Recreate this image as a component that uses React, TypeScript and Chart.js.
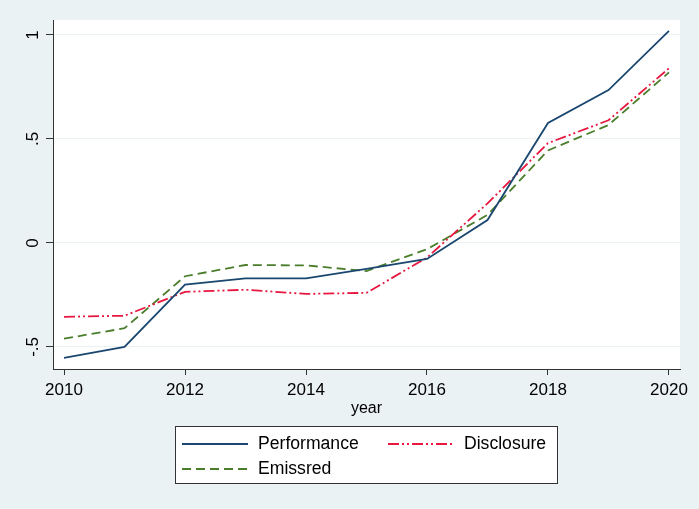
import { useEffect, useRef } from 'react';
import { Chart, registerables } from 'chart.js';

Chart.register(...registerables);

// values (Stata-style line plot)
const years = [2010, 2011, 2012, 2013, 2014, 2015, 2016, 2017, 2018, 2019, 2020];
const performance = [-0.553, -0.5, -0.2, -0.17, -0.17, -0.125, -0.077, 0.11, 0.577, 0.735, 1.02];
const disclosure = [-0.355, -0.35, -0.235, -0.225, -0.245, -0.24, -0.07, 0.19, 0.48, 0.59, 0.84];
const emissred = [-0.46, -0.41, -0.16, -0.106, -0.108, -0.135, -0.03, 0.135, 0.445, 0.567, 0.82];

const xTicks = [2010, 2012, 2014, 2016, 2018, 2020];
const yTicks = [-0.5, 0, 0.5, 1];
const yTickLabels = ['-.5', '0', '.5', '1'];

const FONT = '"Liberation Sans", Arial, sans-serif';
const BG = '#EAF2F3';
const AXIS = '#333333';

const toPoints = (vals: number[]) => vals.map((v, i) => ({ x: years[i], y: v }));

// region colours + rotated y labels + legend box
const stataPlugin = {
	id: 'stata',
	beforeDraw(chart: any) {
		const { ctx, chartArea: a, width, height } = chart;
		ctx.save();
		ctx.fillStyle = BG;
		ctx.fillRect(0, 0, width, height);
		ctx.fillStyle = '#ffffff';
		ctx.fillRect(a.left, a.top, a.right - a.left, a.bottom - a.top);
		ctx.restore();
	},
	afterDraw(chart: any) {
		const { ctx } = chart;
		const yScale = chart.scales.y;

		ctx.save();
		ctx.fillStyle = '#000';
		ctx.font = `17px ${FONT}`;
		ctx.textAlign = 'center';
		ctx.textBaseline = 'middle';
		yTicks.forEach((v, i) => {
			const y = yScale.getPixelForValue(v);
			ctx.save();
			ctx.translate(33, y);
			ctx.rotate(-Math.PI / 2);
			ctx.fillText(yTickLabels[i], 0, 0);
			ctx.restore();
		});
		ctx.restore();

		// legend
		ctx.save();
		ctx.fillStyle = '#fff';
		ctx.fillRect(175.5, 426.5, 382, 57);
		ctx.strokeStyle = AXIS;
		ctx.lineWidth = 1;
		ctx.strokeRect(175.5, 426.5, 382, 57);
		const slots = [
			{ x: 182, y: 444 },
			{ x: 388, y: 444 },
			{ x: 182, y: 469 }
		];
		chart.data.datasets.forEach((ds: any, i: number) => {
			const s = slots[i];
			ctx.beginPath();
			ctx.strokeStyle = ds.borderColor;
			ctx.lineWidth = ds.borderWidth;
			ctx.setLineDash(ds.borderDash || []);
			ctx.moveTo(s.x, s.y);
			ctx.lineTo(s.x + 66, s.y);
			ctx.stroke();
			ctx.setLineDash([]);
			ctx.fillStyle = '#000';
			ctx.font = `17.6px ${FONT}`;
			ctx.textAlign = 'left';
			ctx.textBaseline = 'middle';
			ctx.fillText(ds.label, s.x + 76, s.y);
		});
		ctx.restore();
	}
};

export default function App() {
	const canvasRef = useRef<HTMLCanvasElement | null>(null);
	const chartRef = useRef<Chart | null>(null);

	useEffect(() => {
		document.body.style.margin = '0';
		if (!canvasRef.current) return;
		if (chartRef.current) chartRef.current.destroy();

		chartRef.current = new Chart(canvasRef.current, {
			type: 'line',
			data: {
				datasets: [
					{
						label: 'Performance',
						data: toPoints(performance),
						borderColor: '#1A476F',
						borderWidth: 1.8,
						pointRadius: 0,
						tension: 0
					},
					{
						label: 'Disclosure',
						data: toPoints(disclosure),
						borderColor: '#E8173F',
						borderWidth: 1.8,
						borderDash: [11, 3, 2, 3, 2, 3],
						pointRadius: 0,
						tension: 0
					},
					{
						label: 'Emissred',
						data: toPoints(emissred),
						borderColor: '#4A7E2B',
						borderWidth: 1.8,
						borderDash: [9, 5],
						pointRadius: 0,
						tension: 0
					}
				]
			},
			options: {
				animation: false,
				responsive: true,
				maintainAspectRatio: false,
				layout: { padding: { left: 0, top: 20, right: 19, bottom: 91 } },
				plugins: {
					legend: { display: false },
					tooltip: { enabled: false }
				},
				scales: {
					x: {
						type: 'linear',
						min: 2009.818,
						max: 2020.182,
						afterBuildTicks: (s: any) => {
							s.ticks = xTicks.map((v) => ({ value: v }));
						},
						afterFit: (s: any) => {
							s.height = 49;
						},
						ticks: {
							color: '#000',
							font: { family: FONT, size: 17 },
							padding: 5,
							maxRotation: 0,
							callback: (v: any) => String(v)
						},
						grid: { drawOnChartArea: false, drawTicks: true, tickLength: 6, tickColor: AXIS },
						border: { color: AXIS, width: 1 },
						title: {
							display: true,
							text: 'year',
							color: '#000',
							font: { family: FONT, size: 16 },
							padding: 0
						}
					},
					y: {
						type: 'linear',
						min: -0.606,
						max: 1.072,
						afterBuildTicks: (s: any) => {
							s.ticks = yTicks.map((v) => ({ value: v }));
						},
						afterFit: (s: any) => {
							s.width = 53;
						},
						ticks: { display: false },
						grid: { color: BG, lineWidth: 1, drawTicks: true, tickLength: 7, tickColor: AXIS },
						border: { color: AXIS, width: 1 }
					}
				}
			},
			plugins: [stataPlugin]
		});

		return () => {
			chartRef.current?.destroy();
			chartRef.current = null;
		};
	}, []);

	return (
		<div style={{ width: 699, height: 509 }}>
			<canvas ref={canvasRef} />
		</div>
	);
}
